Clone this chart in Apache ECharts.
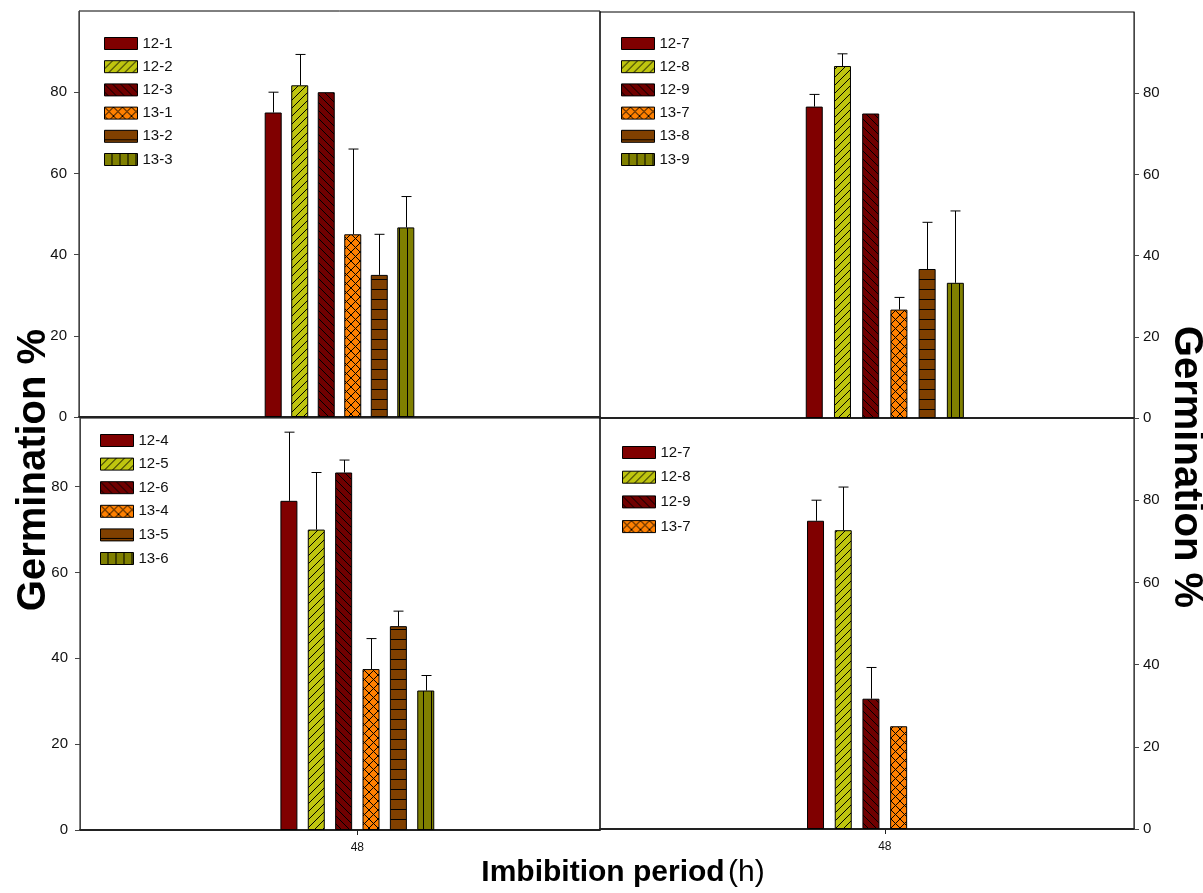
<!DOCTYPE html>
<html><head><meta charset="utf-8">
<script src="https://cdn.jsdelivr.net/npm/echarts@6/dist/echarts.min.js"></script>
<style>html,body{margin:0;padding:0;background:#fff}#c{width:1203px;height:893px}</style>
</head><body><div id="c"></div>
<script>
// ---------- data ----------
const xCategory = [48];
const xTickLabels = ['48'];
const yTicks = [0, 20, 40, 60, 80];

const namesTL = ['12-1', '12-2', '12-3', '13-1', '13-2', '13-3'];
const valuesTL = [75, 81.7, 80, 45, 35, 46.7];
const errorsTL = [5, 7.6, 0, 21, 10, 7.6];

const namesTR = ['12-7', '12-8', '12-9', '13-7', '13-8', '13-9'];
const valuesTR = [76.7, 86.7, 75, 26.7, 36.7, 33.3];
const errorsTR = [3, 3, 0, 3, 11.5, 17.7];

const namesBL = ['12-4', '12-5', '12-6', '13-4', '13-5', '13-6'];
const valuesBL = [76.7, 70, 83.3, 37.5, 47.5, 32.5];
const errorsBL = [16, 13.3, 2.9, 7.1, 3.5, 3.5];

const namesBR = ['12-7', '12-8', '12-9', '13-7'];
const valuesBR = [75, 72.7, 31.7, 25];
const errorsBR = [5, 10.5, 7.6, 0];

// ---------- styles ----------
const FONT = '"Liberation Sans", Arial, sans-serif';
function makePattern(bg, kind) {
  if (kind === 'solid') return bg;
  let w = 8, h = 8;
  if (kind === 'cross') { w = 9; h = 9; }
  if (kind === 'horiz') { w = 4; h = 10; }
  if (kind === 'vert') { w = 8; h = 4; }
  const c = document.createElement('canvas');
  c.width = w; c.height = h;
  const g = c.getContext('2d');
  g.fillStyle = bg; g.fillRect(0, 0, w, h);
  g.strokeStyle = '#000'; g.lineWidth = 1;
  g.beginPath();
  if (kind === 'slash' || kind === 'cross') {
    g.moveTo(-1, h + 1); g.lineTo(w + 1, -1);
    g.moveTo(-1, 1); g.lineTo(1, -1);
    g.moveTo(w - 1, h + 1); g.lineTo(w + 1, h - 1);
  }
  if (kind === 'back' || kind === 'cross') {
    g.moveTo(-1, -1); g.lineTo(w + 1, h + 1);
    g.moveTo(w - 1, -1); g.lineTo(w + 1, 1);
    g.moveTo(-1, h - 1); g.lineTo(1, h + 1);
  }
  if (kind === 'horiz') { g.moveTo(0, h - 0.5); g.lineTo(w, h - 0.5); }
  if (kind === 'vert') { g.moveTo(w - 0.5, 0); g.lineTo(w - 0.5, h); }
  g.stroke();
  return { image: c, repeat: 'repeat' };
}
const fills = [
  makePattern('#800000', 'solid'),
  makePattern('#bfc50f', 'slash'),
  makePattern('#700000', 'back'),
  makePattern('#ff8000', 'cross'),
  makePattern('#804000', 'horiz'),
  makePattern('#808000', 'vert')
];

// ---------- panels ----------
const panels = [
  { grid: { left: 79, top: 11, width: 521, height: 406 }, xMax: 96, yMax: 100, side: 'left', bottom: false,
    names: namesTL, values: valuesTL, errors: errorsTL, gap: 0.56, legend: { left: 99, top: 31, itemGap: 8.2 } },
  { grid: { left: 600, top: 12, width: 534, height: 406 }, xMax: 90, yMax: 100, side: 'right', bottom: false,
    names: namesTR, values: valuesTR, errors: errorsTR, gap: 0.66, legend: { left: 616, top: 31, itemGap: 8.2 } },
  { grid: { left: 80, top: 418, width: 520, height: 412 }, xMax: 90, yMax: 96, side: 'left', bottom: true,
    names: namesBL, values: valuesBL, errors: errorsBL, gap: 0.61, legend: { left: 95, top: 428, itemGap: 8.6 } },
  { grid: { left: 600, top: 418, width: 534, height: 411 }, xMax: 90, yMax: 100, side: 'right', bottom: true,
    names: namesBR, values: valuesBR, errors: errorsBR, gap: 0.63, legend: { left: 617, top: 440, itemGap: 9.7 } }
];
const BAR_W = 17;
const SLOTS = 6;

const grids = [], xAxes = [], yAxes = [], series = [], legends = [];
panels.forEach((p, gi) => {
  grids.push(Object.assign({ show: true, borderColor: '#000', borderWidth: 1, backgroundColor: 'transparent' }, p.grid));
  xAxes.push({
    gridIndex: gi, type: 'value', min: 0, max: p.xMax,
    axisLine: { show: true, onZero: false, lineStyle: { color: '#222', width: 2 } },
    axisTick: { show: p.bottom, customValues: xCategory, length: 5, lineStyle: { color: '#222' } },
    axisLabel: { show: p.bottom, customValues: xCategory, margin: 12, fontSize: 12, color: '#111', fontFamily: FONT,
      formatter: v => xTickLabels[xCategory.indexOf(v)] },
    splitLine: { show: false }
  });
  yAxes.push({
    gridIndex: gi, type: 'value', min: 0, max: p.yMax, position: p.side,
    axisLine: { show: true, onZero: false, lineStyle: { color: '#444', width: 1 } },
    axisTick: { show: true, customValues: yTicks, length: 5, lineStyle: { color: '#444' } },
    axisLabel: { customValues: yTicks, margin: p.side === 'left' ? 12 : 9, fontSize: 15, color: '#111', fontFamily: FONT },
    splitLine: { show: false }
  });
  for (let i = 0; i < SLOTS; i++) {
    const has = i < p.values.length;
    series.push({
      type: 'bar', name: has ? p.names[i] : ('empty' + gi + i), xAxisIndex: gi, yAxisIndex: gi,
      barWidth: BAR_W, barGap: Math.round(p.gap * 100) + '%',
      data: has ? [[xCategory[0], p.values[i]]] : [],
      itemStyle: { color: fills[i], borderColor: '#000', borderWidth: 1 },
      silent: true
    });
  }
  const step = BAR_W * (1 + p.gap);
  series.push({
    type: 'custom', xAxisIndex: gi, yAxisIndex: gi, silent: true, z: 5,
    data: p.values.map((v, i) => [xCategory[0], v, p.errors[i], i]),
    renderItem: (params, api) => {
      const err = api.value(2);
      if (!err) return null;
      const base = api.coord([api.value(0), api.value(1)]);
      const top = api.coord([api.value(0), api.value(1) + err]);
      const x = Math.round(base[0] + (api.value(3) - (SLOTS - 1) / 2) * step) + 0.5;
      const st = { stroke: '#000', lineWidth: 1 };
      return { type: 'group', children: [
        { type: 'line', shape: { x1: x, y1: base[1], x2: x, y2: top[1] }, style: st },
        { type: 'line', shape: { x1: x - 5, y1: top[1], x2: x + 5, y2: top[1] }, style: st }
      ] };
    }
  });
  legends.push({
    orient: 'vertical', left: p.legend.left, top: p.legend.top, itemGap: p.legend.itemGap,
    itemWidth: 33, itemHeight: 12, icon: 'rect', data: p.names, selectedMode: false,
    itemStyle: { borderColor: '#000', borderWidth: 1 },
    textStyle: { fontSize: 15, color: '#111', fontFamily: FONT }
  });
});

const chart = echarts.init(document.getElementById('c'), null, { renderer: 'canvas' });
chart.setOption({
  animation: false,
  backgroundColor: '#fff',
  grid: grids, xAxis: xAxes, yAxis: yAxes, series: series, legend: legends,
  graphic: [
    { type: 'text', x: 34, y: 470, rotation: Math.PI / 2,
      style: { text: 'Germination %', font: 'bold 40px ' + FONT, fill: '#000', textAlign: 'center', textVerticalAlign: 'middle' } },
    { type: 'text', x: 1186, y: 467, rotation: -Math.PI / 2,
      style: { text: 'Germination %', font: 'bold 40px ' + FONT, fill: '#000', textAlign: 'center', textVerticalAlign: 'middle' } },
    { type: 'text', x: 623, y: 873,
      style: { text: '{b|Imbibition period} {n|(h)}', textAlign: 'center', textVerticalAlign: 'middle', fill: '#000',
        rich: { b: { font: 'bold 30px ' + FONT, fill: '#000' }, n: { font: '30px ' + FONT, fill: '#000' } } } }
  ]
});
</script></body></html>
